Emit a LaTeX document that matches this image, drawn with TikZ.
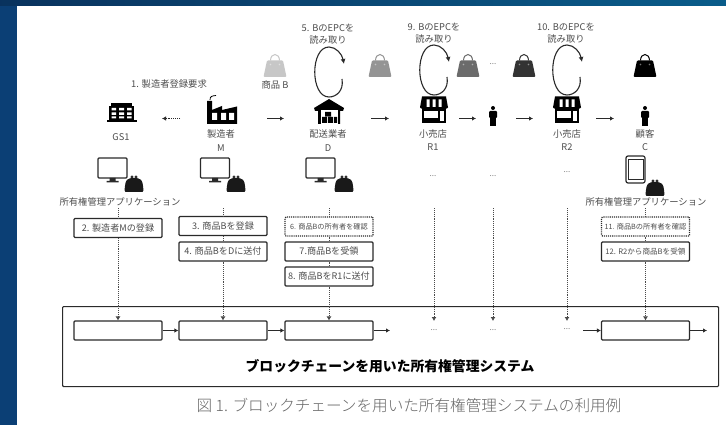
\documentclass[tikz,border=0pt]{standalone}
\usepackage{fontspec}
\setmainfont{Noto Sans CJK JP}
\newfontfamily\capfont{Noto Sans CJK JP Light}
\usetikzlibrary{arrows.meta,shadings}
\definecolor{panelblue}{HTML}{0B3F75}
\definecolor{txt}{HTML}{4D4D4D}
\definecolor{ink}{HTML}{2A2A2A}
\tikzset{
  x=1pt,y=-1pt,
  lbl/.style={font=\fontsize{9.3}{11.5}\selectfont,text=txt,inner sep=0pt,align=center},
  boxl/.style={draw=ink,line width=1.1pt,rounded corners=1pt,minimum width=88pt,minimum height=19pt,inner sep=0pt,font=\fontsize{9.1}{11}\selectfont,text=txt,fill=white},
  dotbox/.style={boxl,densely dotted,font=\fontsize{7.2}{9}\selectfont},
  block/.style={draw=ink,line width=1.1pt,rounded corners=1pt,minimum width=88pt,minimum height=19pt,inner sep=0pt,fill=white},
  flow/.style={draw=ink,line width=1.1pt,-{Latex[length=4pt,width=4.5pt]}},
  vdot/.style={draw=ink!85,line width=.9pt,densely dotted},
  vdota/.style={vdot,-{Latex[length=4pt,width=5pt]}},
  ell/.style={font=\fontsize{8}{8}\selectfont,text=black!50,inner sep=0pt},
  loopa/.style={draw=ink,line width=1.1pt,-{Latex[length=5pt,width=5pt]}},
  pics/bag/.style={code={
    \fill[#1,rounded corners=1pt] (-8,-5) -- (8,-5) -- (11.5,11.5) -- (-11.5,11.5) -- cycle;
    \draw[#1,line width=1pt] (-4.5,-5) .. controls (-4.5,-13) and (4.5,-13) .. (4.5,-5);
    \fill[white,opacity=.45] (-4.5,-1) circle (.9) (4.5,-1) circle (.9);
  }},
  pics/monitor/.style={code={
    \draw[ink,line width=1.3pt,rounded corners=1pt] (-14.5,-10) rectangle (14.5,10);
    \fill[ink] (-3,10) rectangle (3,13) (-6,13) rectangle (6,14.5);
  }},
  pics/wallet/.style={code={
    \fill[black!90] (-8.5,9) .. controls (-10,9) and (-9.5,6) .. (-9,3) .. controls (-8.5,-3) and (-7,-5) .. (0,-5)
       .. controls (7,-5) and (8.5,-3) .. (9,3) .. controls (9.5,6) and (10,9) .. (8.5,9) -- cycle;
    \draw[black!90,line width=.8pt] (-2,-6) circle (1.1) (2,-6) circle (1.1);
  }},
  pics/store/.style={code={
    \fill[black] (-12,-14) -- (12,-14) -- (14,-3) .. controls (14,0) and (-14,0) .. (-14,-3) -- cycle;
    \fill[white] (-7.5,-11) rectangle (-4.5,-3) (-1.5,-11) rectangle (1.5,-3) (4.5,-11) rectangle (7.5,-3);
    \fill[black] (-12,-3) rectangle (12,13);
    \fill[white] (-10,1) rectangle (10,11);
    \fill[black] (4,1) rectangle (5.5,11);
    \fill[black] (-10,8) rectangle (4,11);
  }},
  pics/person/.style={code={
    \fill[black] (0,-8) circle (2);
    \fill[black,rounded corners=1pt] (-4,-5) rectangle (4,2);
    \fill[black] (-2.6,2) rectangle (2.6,10);
  }},
}
\begin{document}
\begin{tikzpicture}
\useasboundingbox (0,0) rectangle (726,425);
\fill[panelblue] (0,0) rectangle (726,425);
\fill[left color=panelblue!80!black,right color=panelblue!85!cyan] (0,0) rectangle (726,6);
\fill[white] (17,6) rectangle (726,425);
% GS1 building
\fill[black] (106.5,120) rectangle (136.5,122.5);
\fill[black] (109,106) rectangle (134,120);
\fill[black] (111,103.5) rectangle (132,106);
\fill[white] (111.5,108) rectangle (116,110.5) (119,108) rectangle (124,110.5) (127,108) rectangle (131.5,110.5)
 (111.5,112.5) rectangle (116,115) (119,112.5) rectangle (124,115) (127,112.5) rectangle (131.5,115)
 (111.5,116.5) rectangle (116,118.5) (119,116.5) rectangle (124,118.5) (127,116.5) rectangle (131.5,118.5);
% factory
\fill[black] (207,124) -- (207,101) -- (212,101) -- (212,110) -- (222,106) -- (222,110) -- (237,106.5) -- (237,124) -- cycle;
\draw[black,line width=.8pt] (210,100) .. controls (210,96) and (212,96) .. (216,95.5);
\fill[white] (212,113) rectangle (217,120) (221,113) rectangle (226,120) (229,113) rectangle (234,120);
% warehouse
\fill[black] (329,99) -- (344,108) -- (343,111) -- (340,111) -- (340,124) -- (318,124) -- (318,111) -- (315,111) -- (314,108) -- cycle;
\fill[white] (320.5,110) rectangle (337.5,124);
\fill[black] (322,117) rectangle (327,123) (328,117) rectangle (333,123) (334,117) rectangle (337,123) (325,112) rectangle (331,116.5);
\pic at (434,110.5) {store};
\pic at (567,110.5) {store};
\pic at (493,116) {person};
\pic at (645,116) {person};
% bags
\pic at (275,65.5) {bag={black!22}};
\pic at (380,65.5) {bag={black!42}};
\pic at (468,65.5) {bag={black!58}};
\pic at (524,65.5) {bag={black!80}};
\pic at (645,65.5) {bag={black}};
\node[ell] (bagdots) at (493,64) {...};
% labels
\node[lbl] (l1) at (169,84) {1. 製造者登録要求};
\node[lbl] (lb) at (275,85) {商品 B};
\node[lbl] (l5) at (328,34) {5. BのEPCを\\読み取り};
\node[lbl] (l9) at (434,33) {9. BのEPCを\\読み取り};
\node[lbl] (l10) at (566,33) {10. BのEPCを\\読み取り};
\node[lbl] (ngs) at (121,137) {GS1};
\node[lbl,font=\fontsize{9.3}{14}\selectfont] (nm) at (221,141) {製造者\\M};
\node[lbl,font=\fontsize{9.3}{14}\selectfont] (nd) at (328,141) {配送業者\\D};
\node[lbl,font=\fontsize{9.3}{13}\selectfont] (nr1) at (433,140) {小売店\\R1};
\node[lbl,font=\fontsize{9.3}{13}\selectfont] (nr2) at (567,140) {小売店\\R2};
\node[lbl,font=\fontsize{9.3}{13}\selectfont] (nc) at (645,140) {顧客\\C};
% read loops
\foreach \cx/\top in {329/47,434/45,567/45}{
  \draw[loopa] (\cx+13,\top+32) .. controls (\cx+15,\top+44) and (\cx+7,\top+50) .. (\cx,\top+50)
     .. controls (\cx-19,\top+50) and (\cx-19,\top) .. (\cx,\top)
     .. controls (\cx+7,\top) and (\cx+13,\top+7) .. (\cx+15,\top+17);
}
% flow arrows
\coordinate (a1s) at (180,118.5); \coordinate (a1e) at (162,118.5);
\draw[flow,densely dotted] (a1s) -- (a1e);
\foreach \xa/\xb in {267/284,371/389,459/476,516/533,596/614}{
  \coordinate (as) at (\xa,118.5); \coordinate (ae) at (\xb,118.5);
  \draw[flow] (as) -- (ae);
}
% devices
\pic at (112.5,168) {monitor}; \pic at (134,183) {wallet};
\pic at (215,168) {monitor}; \pic at (236,183) {wallet};
\pic at (320.5,168) {monitor}; \pic at (344,183) {wallet};
\draw[ink,line width=1.2pt,rounded corners=2pt] (626,156) rectangle (645,183);
\draw[ink,line width=.6pt] (628,159) rectangle (643,179);
\pic at (655,187) {wallet};
\node[ell] (d1) at (433,176) {...};
\node[ell] (d2) at (493,176) {...};
\node[ell] (d3) at (567,172) {...};
\node[lbl] (app1) at (120,202) {所有権管理アプリケーション};
\node[lbl] (app2) at (646,202) {所有権管理アプリケーション};
% system box
\node[draw=ink,line width=1.1pt,rounded corners=1pt,minimum width=656pt,minimum height=80pt,inner sep=0pt,anchor=north west] (sys) at (62,306) {};
\node[font=\bfseries\fontsize{13.8}{16}\selectfont,text=black,inner sep=0pt] (title) at (390,366) {ブロックチェーンを用いた所有権管理システム};
\node[block] (b1) at (118,330.5) {};
\node[block] (b2) at (223,330.5) {};
\node[block] (b3) at (329,330.5) {};
\node[block] (b4) at (645.5,330.5) {};
\node[ell] (e1) at (434,330) {...};
\node[ell] (e2) at (493,330.5) {...};
\node[ell] (e3) at (567,329) {...};
\coordinate (out3) at (390,330.5);
\coordinate (in4) at (583,330.5);
\coordinate (out4) at (707,330.5);
\draw[flow] (b1) -- (b2);
\draw[flow] (b2) -- (b3);
\draw[flow] (b3) -- (out3);
\draw[flow] (in4) -- (b4);
\draw[flow] (b4) -- (out4);
% app boxes
\node[boxl] (s2) at (118,228) {2. 製造者Mの登録};
\node[boxl] (s3) at (223,226) {3. 商品Bを登録};
\node[boxl] (s4) at (223,251.5) {4. 商品BをDに送付};
\node[dotbox] (s6) at (329,226.5) {6. 商品Bの所有者を確認};
\node[boxl] (s7) at (329,251.5) {7.商品Bを受領};
\node[boxl] (s8) at (329,276.5) {8. 商品BをR1に送付};
\node[dotbox] (s11) at (645.5,226.5) {11. 商品Bの所有者を確認};
\node[boxl,font=\fontsize{7.6}{9}\selectfont] (s12) at (645.5,251.5) {12. R2から商品Bを受領};
% dotted connectors
\coordinate (t1) at (118,208); \coordinate (t2) at (223,208); \coordinate (t3) at (329,208); \coordinate (t4) at (645.5,208);
\coordinate (t5) at (434,208); \coordinate (t6) at (493,208); \coordinate (t7) at (567,208);
\coordinate (h5) at (434,321); \coordinate (h6) at (493,321); \coordinate (h7) at (567,321);
\draw[vdot] (t1) -- (s2);
\draw[vdota] (s2) -- (b1);
\draw[vdot] (t2) -- (s3);
\draw[vdot] (s3) -- (s4);
\draw[vdota] (s4) -- (b2);
\draw[vdot] (t3) -- (s6);
\draw[vdot] (s6) -- (s7);
\draw[vdot] (s7) -- (s8);
\draw[vdota] (s8) -- (b3);
\draw[vdot] (t4) -- (s11);
\draw[vdot] (s11) -- (s12);
\draw[vdota] (s12) -- (b4);
\draw[vdota] (t5) -- (h5);
\draw[vdota] (t6) -- (h6);
\draw[vdota] (t7) -- (h7);
% caption
\node[font=\capfont\fontsize{15.6}{18}\selectfont,text=black!60,inner sep=0pt] (cap) at (409,405) {図 1. ブロックチェーンを用いた所有権管理システムの利用例};
\end{tikzpicture}
\end{document}
